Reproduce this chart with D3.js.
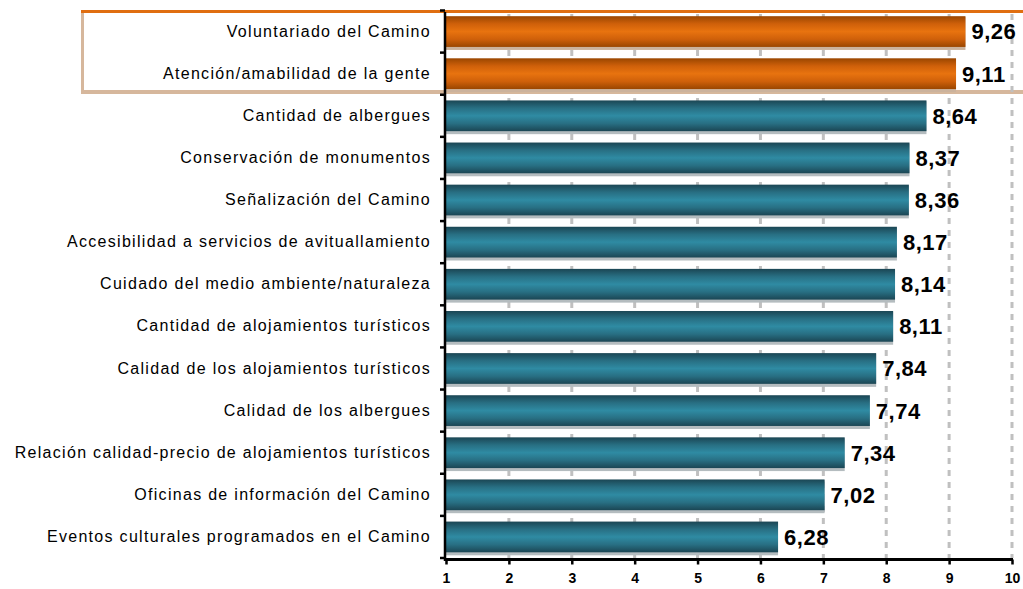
<!DOCTYPE html>
<html>
<head>
<meta charset="utf-8">
<script src="https://cdn.jsdelivr.net/npm/d3@7"></script>
<style>
  body { margin: 0; background: #fff; }
  svg { display: block; }
</style>
</head>
<body>
<svg width="1023" height="589"></svg>
<script>
var categories = [
    "Voluntariado del Camino",
    "Atención/amabilidad de la gente",
    "Cantidad de albergues",
    "Conservación de monumentos",
    "Señalización del Camino",
    "Accesibilidad a servicios de avituallamiento",
    "Cuidado del medio ambiente/naturaleza",
    "Cantidad de alojamientos turísticos",
    "Calidad de los alojamientos turísticos",
    "Calidad de los albergues",
    "Relación calidad-precio de alojamientos turísticos",
    "Oficinas de información del Camino",
    "Eventos culturales programados en el Camino"
];
var values = [9.26, 9.11, 8.64, 8.37, 8.36, 8.17, 8.14, 8.11, 7.84, 7.74, 7.34, 7.02, 6.28];
var highlighted = 2; // first two rows are boxed in orange
var xTicks = [1, 2, 3, 4, 5, 6, 7, 8, 9, 10];

function main(){
    var svg = d3.select("svg");

    var xScale = d3.scaleLinear().domain([1, 10]).range([446, 1012]),
        yScale = d3.scaleBand().domain(categories).range([10.5, 558])
            .paddingInner(0.27).paddingOuter(0.135);

    var defs = svg.append("defs");
    function grad(id, edge, mid, center){
        var lg = defs.append("linearGradient").attr("id", id)
            .attr("x1", 0).attr("y1", 0).attr("x2", 0).attr("y2", 1);
        [[0, edge], [0.25, mid], [0.5, center], [0.75, mid], [1, edge]].forEach(function(s){
            lg.append("stop").attr("offset", s[0]).attr("stop-color", s[1]);
        });
    }
    grad("gOrange", "#9a4600", "#cf600a", "#e8730f");
    grad("gTeal", "#1b4654", "#286f83", "#2f8ba3");

    // highlight box
    svg.append("rect").attr("x", 81).attr("y", 12).attr("width", 3).attr("height", 81).attr("fill", "#d6b79c");
    svg.append("rect").attr("x", 81).attr("y", 90).attr("width", 942).attr("height", 4).attr("fill", "#d6b79c");
    svg.append("rect").attr("x", 81).attr("y", 10).attr("width", 942).attr("height", 3).attr("fill", "#e06e10");

    // dashed grid
    svg.append("g").selectAll("line")
        .data(xTicks.slice(1))
        .enter().append("line")
        .attr("x1", function(d){ return xScale(d); })
        .attr("x2", function(d){ return xScale(d); })
        .attr("y1", 14).attr("y2", 558)
        .attr("stroke", "#c0c0c0").attr("stroke-width", 3)
        .attr("stroke-dasharray", "6,6");

    var rows = svg.append("g").selectAll(".row")
        .data(categories)
        .enter().append("g").attr("class", "row");

    rows.append("rect")
        .attr("x", xScale(1))
        .attr("y", function(d){ return yScale(d) + 1; })
        .attr("width", function(d, i){ return xScale(values[i]) - xScale(1); })
        .attr("height", yScale.bandwidth() + 2)
        .attr("fill", function(d, i){ return i < highlighted ? "#cbb29c" : "#b4bcbf"; });

    rows.append("rect")
        .attr("class", "bar")
        .attr("x", xScale(1))
        .attr("y", function(d){ return yScale(d); })
        .attr("width", function(d, i){ return xScale(values[i]) - xScale(1); })
        .attr("height", yScale.bandwidth())
        .attr("fill", function(d, i){ return i < highlighted ? "url(#gOrange)" : "url(#gTeal)"; });

    rows.append("text")
        .attr("x", function(d, i){ return xScale(values[i]) + 6; })
        .attr("y", function(d){ return yScale(d) + yScale.bandwidth() / 2; })
        .attr("dy", "0.36em")
        .attr("font-family", "Liberation Sans, Arial, sans-serif")
        .attr("font-weight", "bold")
        .attr("font-size", 22)
        .attr("letter-spacing", 0.5)
        .attr("fill", "#000")
        .text(function(d, i){ return values[i].toFixed(2).replace(".", ","); });

    // category axis
    var yAxis = svg.append("g").attr("transform", "translate(445,0)")
        .call(d3.axisLeft(yScale).tickSize(0).tickPadding(14));
    yAxis.select(".domain").remove();
    yAxis.selectAll("text")
        .attr("font-family", "Liberation Sans, Arial, sans-serif")
        .attr("font-size", 16)
        .attr("letter-spacing", 1.3)
        .attr("fill", "#000");

    var step = yScale.step();
    svg.append("g").selectAll("line")
        .data(d3.range(categories.length + 1))
        .enter().append("line")
        .attr("x1", 440).attr("x2", 445)
        .attr("y1", function(i){ return 10.5 + i * step; })
        .attr("y2", function(i){ return 10.5 + i * step; })
        .attr("stroke", "#000").attr("stroke-width", 2.5);
    svg.append("line").attr("x1", 445).attr("x2", 445).attr("y1", 12).attr("y2", 561)
        .attr("stroke", "#000").attr("stroke-width", 2.5);

    // value axis
    var xAxis = svg.append("g").attr("transform", "translate(0,559.5)")
        .call(d3.axisBottom(xScale).tickValues(xTicks).tickSize(5).tickPadding(9).tickFormat(d3.format("d")));
    xAxis.select(".domain").attr("stroke-width", 3).attr("d", "M444,0H1013");
    xAxis.selectAll(".tick line").attr("stroke-width", 2.5);
    xAxis.selectAll("text")
        .attr("font-family", "Liberation Sans, Arial, sans-serif")
        .attr("font-weight", "bold")
        .attr("font-size", 14)
        .attr("fill", "#000");
}
main();
</script>
</body>
</html>
